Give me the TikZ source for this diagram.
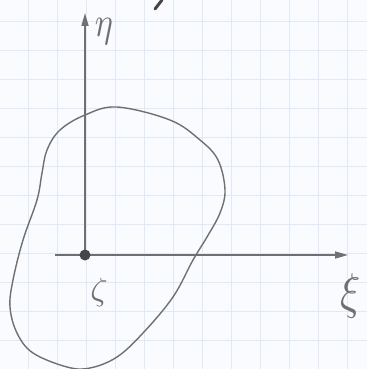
\documentclass[tikz,border=0pt]{standalone}
\usepackage{graphicx}
\usetikzlibrary{arrows.meta}
\definecolor{paper}{RGB}{250,251,254}
\definecolor{gridblue}{RGB}{224,233,247}
\definecolor{pencil}{RGB}{112,112,114}
\definecolor{dark}{RGB}{70,70,72}
\tikzset{
  axisline/.style={draw=pencil, line width=1.6pt, -{Triangle[length=13pt,width=7pt]}},
  curveline/.style={draw=pencil, line width=1.4pt},
  lbl/.style={text=pencil, inner sep=0pt},
}
\begin{document}
\begin{tikzpicture}[x=1pt,y=-1pt]
\fill[paper] (0,0) rectangle (367,369);
\useasboundingbox (0,0) rectangle (367,369);
% graph paper grid
\foreach \i in {-1,0,...,12} {
  \draw[gridblue, line width=0.9pt] ({28+29*\i},0) -- ({28+29*\i},369);
}
\foreach \j in {0,...,12} {
  \draw[gridblue, line width=0.9pt] (0,{-7.3+29*\j}) -- (367,{-7.3+29*\j});
}
% coordinates
\coordinate (O) at (85,255);
\coordinate (ytip) at (85,13);
\coordinate (xstart) at (55,255);
\coordinate (xtip) at (348,255);
% closed curve
\draw[curveline] plot[smooth cycle, tension=0.6] coordinates {
 (85,115) (117,107) (170,120) (200,140) (218,160) (225,190) (220,213)
 (207,237) (193,260) (173,297) (143,333) (117,357) (90,368) (67,367)
 (33,353) (17,333) (10,307) (13,280) (23,240) (37,200) (42,173)
 (47,150) (60,130)};
% axes
\draw[axisline] (O) -- (ytip);
\draw[axisline] (xstart) -- (xtip);
\fill[dark] (O) circle (5.5);
% labels
\node[lbl] (eta) at (104,32) {\scalebox{3.4}[4.2]{$\eta$}};
\node[lbl] (zeta) at (99,292) {\scalebox{3.4}[3.2]{$\zeta$}};
\node[lbl] (xi) at (351,296) {\scalebox{4.2}[5.0]{$\xi$}};
% stroke cut at top edge
\coordinate (sa) at (162,0);
\coordinate (sb) at (155,9);
\draw[dark, line width=3pt, line cap=round] (sa) -- (sb);
\end{tikzpicture}
\end{document}
